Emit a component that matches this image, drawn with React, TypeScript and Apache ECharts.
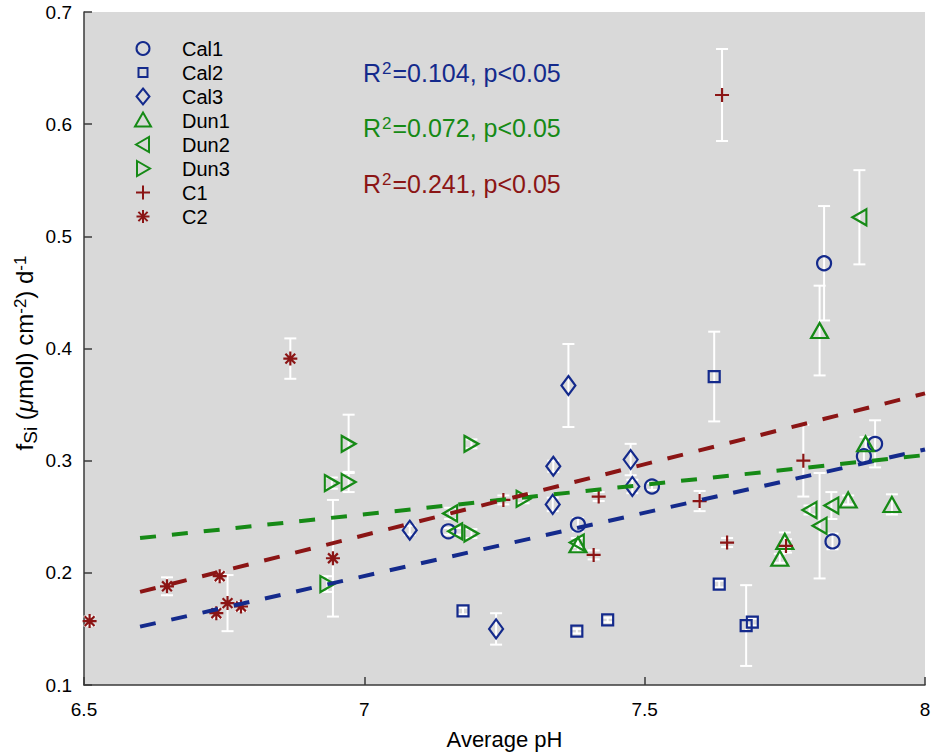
import React, { useEffect, useRef } from "react";
import * as echarts from "echarts";

// ---------------- data ----------------
const seriesNames = ["Cal1", "Cal2", "Cal3", "Dun1", "Dun2", "Dun3", "C1", "C2"];

const cal1X = [7.15, 7.381, 7.513, 7.82, 7.835, 7.891, 7.911];
const cal1Y = [0.237, 0.243, 0.277, 0.476, 0.228, 0.304, 0.315];
const cal1Err = [0.003, 0.006, 0.003, 0.051, 0.007, 0.006, 0.021];

const cal2X = [7.176, 7.379, 7.434, 7.624, 7.633, 7.681, 7.692];
const cal2Y = [0.166, 0.148, 0.158, 0.375, 0.19, 0.153, 0.156];
const cal2Err = [0.003, 0.002, 0.002, 0.04, 0.003, 0.036, 0.003];

const cal3X = [7.081, 7.235, 7.336, 7.337, 7.364, 7.475, 7.478];
const cal3Y = [0.238, 0.15, 0.261, 0.295, 0.367, 0.301, 0.277];
const cal3Err = [0.004, 0.014, 0.006, 0.005, 0.037, 0.014, 0.006];

const dun1X = [7.381, 7.741, 7.75, 7.812, 7.863, 7.894, 7.941];
const dun1Y = [0.225, 0.213, 0.228, 0.416, 0.265, 0.315, 0.261];
const dun1Err = [0.006, 0.004, 0.008, 0.04, 0.004, 0.006, 0.009];

const dun2X = [7.153, 7.162, 7.379, 7.794, 7.812, 7.833, 7.883];
const dun2Y = [0.253, 0.237, 0.227, 0.256, 0.242, 0.26, 0.517];
const dun2Err = [0.005, 0.003, 0.004, 0.004, 0.047, 0.012, 0.042];

const dun3X = [6.934, 6.942, 6.972, 6.972, 7.191, 7.191, 7.284];
const dun3Y = [0.19, 0.28, 0.281, 0.315, 0.235, 0.315, 0.266];
const dun3Err = [0.007, 0.005, 0.009, 0.026, 0.004, 0.004, 0.004];

const c1X = [7.248, 7.409, 7.418, 7.598, 7.638, 7.647, 7.752, 7.783];
const c1Y = [0.265, 0.216, 0.268, 0.264, 0.626, 0.227, 0.224, 0.3];
const c1Err = [0.004, 0.004, 0.004, 0.009, 0.041, 0.004, 0.006, 0.032];

const c2X = [6.51, 6.648, 6.742, 6.736, 6.756, 6.78, 6.868, 6.944];
const c2Y = [0.157, 0.188, 0.197, 0.164, 0.173, 0.17, 0.391, 0.213];
const c2Err = [0.004, 0.008, 0.004, 0.004, 0.025, 0.004, 0.018, 0.052];

// regression fits (endpoints)
const fitBlueX = [6.6, 8];
const fitBlueY = [0.152, 0.31];
const fitGreenX = [6.6, 8];
const fitGreenY = [0.231, 0.305];
const fitRedX = [6.6, 8];
const fitRedY = [0.183, 0.36];

const r2Values = ["0.104", "0.072", "0.241"];
const pLabel = "p<0.05";

const xMin = 6.5;
const xMax = 8;
const xStep = 0.5;
const yMin = 0.1;
const yMax = 0.7;
const yStep = 0.1;

// ---------------- styles ----------------
const NAVY = "#142a8c";
const GREEN = "#168a16";
const RED = "#8b1515";
const FONT = "'Liberation Sans', Arial, Helvetica, sans-serif";

const SYM_LEFT = "path://M10 0L0 5.5L10 11Z";
const SYM_RIGHT = "path://M0 0L10 5.5L0 11Z";
const SYM_PLUS = "path://M5 0L5 10M0 5L10 5";
const SYM_STAR = "path://M5 0L5 10M0 5L10 5M1.5 1.5L8.5 8.5M8.5 1.5L1.5 8.5";

const pts = (xs: number[], ys: number[]) => xs.map((x, i) => [x, ys[i]]);
const errPts = (xs: number[], ys: number[], es: number[]) =>
  xs.map((x, i) => [x, ys[i], es[i]]);

export default function App() {
  const ref = useRef<HTMLDivElement>(null);

  useEffect(() => {
    if (!ref.current) return;
    const chart = echarts.init(ref.current, undefined, { renderer: "svg" });

    const groups = [
      { name: seriesNames[0], x: cal1X, y: cal1Y, e: cal1Err, color: NAVY, symbol: "circle", size: 14 },
      { name: seriesNames[1], x: cal2X, y: cal2Y, e: cal2Err, color: NAVY, symbol: "rect", size: 11 },
      { name: seriesNames[2], x: cal3X, y: cal3Y, e: cal3Err, color: NAVY, symbol: "diamond", size: [14, 19] },
      { name: seriesNames[3], x: dun1X, y: dun1Y, e: dun1Err, color: GREEN, symbol: "triangle", size: [17, 15] },
      { name: seriesNames[4], x: dun2X, y: dun2Y, e: dun2Err, color: GREEN, symbol: SYM_LEFT, size: [14, 16] },
      { name: seriesNames[5], x: dun3X, y: dun3Y, e: dun3Err, color: GREEN, symbol: SYM_RIGHT, size: [14, 16] },
      { name: seriesNames[6], x: c1X, y: c1Y, e: c1Err, color: RED, symbol: SYM_PLUS, size: 14 },
      { name: seriesNames[7], x: c2X, y: c2Y, e: c2Err, color: RED, symbol: SYM_STAR, size: 14 },
    ];

    const allErr: number[][] = [];
    groups.forEach((g) => allErr.push(...errPts(g.x, g.y, g.e)));

    const series: any[] = [
      {
        type: "custom",
        name: "errors",
        silent: true,
        z: 1,
        data: allErr,
        encode: { x: 0, y: 1 },
        renderItem: (_p: any, api: any) => {
          const x = api.value(0);
          const y = api.value(1);
          const e = api.value(2);
          const t = api.coord([x, y + e]);
          const b = api.coord([x, y - e]);
          const w = 6;
          const st = { stroke: "#ffffff", lineWidth: 2 };
          return {
            type: "group",
            children: [
              { type: "line", shape: { x1: t[0], y1: t[1], x2: b[0], y2: b[1] }, style: st },
              { type: "line", shape: { x1: t[0] - w, y1: t[1], x2: t[0] + w, y2: t[1] }, style: st },
              { type: "line", shape: { x1: b[0] - w, y1: b[1], x2: b[0] + w, y2: b[1] }, style: st },
            ],
          };
        },
      },
      ...groups.map((g) => ({
        type: "scatter",
        name: g.name,
        silent: true,
        z: 2,
        symbol: g.symbol,
        symbolSize: g.size,
        itemStyle: { color: "rgba(0,0,0,0)", borderColor: g.color, borderWidth: 2.2, opacity: 1 },
        data: pts(g.x, g.y),
      })),
      ...[
        { x: fitBlueX, y: fitBlueY, c: NAVY },
        { x: fitGreenX, y: fitGreenY, c: GREEN },
        { x: fitRedX, y: fitRedY, c: RED },
      ].map((f) => ({
        type: "line",
        silent: true,
        z: 3,
        symbol: "none",
        showSymbol: false,
        data: pts(f.x, f.y),
        lineStyle: { color: f.c, width: 4, type: [16, 16] },
      })),
    ];

    // legend drawn as graphic
    const lx = 143;
    const ly0 = 48.5;
    const step = 24;
    const legendChildren: any[] = [];
    const legendMarker = (i: number, cy: number): any[] => {
      const g = groups[i];
      const s = { fill: "none", stroke: g.color, lineWidth: 2 };
      const ls = { stroke: g.color, lineWidth: 2 };
      switch (i) {
        case 0:
          return [{ type: "circle", shape: { cx: lx, cy, r: 6.5 }, style: s }];
        case 1:
          return [{ type: "rect", shape: { x: lx - 4.5, y: cy - 4.5, width: 9, height: 9 }, style: s }];
        case 2:
          return [{ type: "polygon", shape: { points: [[lx, cy - 8], [lx + 6.5, cy], [lx, cy + 8], [lx - 6.5, cy]] }, style: s }];
        case 3:
          return [{ type: "polygon", shape: { points: [[lx, cy - 8], [lx + 8, cy + 6], [lx - 8, cy + 6]] }, style: s }];
        case 4:
          return [{ type: "polygon", shape: { points: [[lx - 7, cy], [lx + 6, cy - 7.5], [lx + 6, cy + 7.5]] }, style: s }];
        case 5:
          return [{ type: "polygon", shape: { points: [[lx - 6, cy - 7.5], [lx + 7, cy], [lx - 6, cy + 7.5]] }, style: s }];
        case 6:
          return [
            { type: "line", shape: { x1: lx, y1: cy - 7, x2: lx, y2: cy + 7 }, style: ls },
            { type: "line", shape: { x1: lx - 7, y1: cy, x2: lx + 7, y2: cy }, style: ls },
          ];
        default:
          return [
            { type: "line", shape: { x1: lx, y1: cy - 6.5, x2: lx, y2: cy + 6.5 }, style: ls },
            { type: "line", shape: { x1: lx - 6.5, y1: cy, x2: lx + 6.5, y2: cy }, style: ls },
            { type: "line", shape: { x1: lx - 4.6, y1: cy - 4.6, x2: lx + 4.6, y2: cy + 4.6 }, style: ls },
            { type: "line", shape: { x1: lx + 4.6, y1: cy - 4.6, x2: lx - 4.6, y2: cy + 4.6 }, style: ls },
          ];
      }
    };
    seriesNames.forEach((n, i) => {
      const cy = ly0 + i * step;
      legendChildren.push(...legendMarker(i, cy));
      legendChildren.push({
        type: "text",
        x: 182,
        y: cy,
        style: { text: n, fill: "#000", fontSize: 20, fontFamily: FONT, verticalAlign: "middle", align: "left" },
      });
    });

    const r2Colors = [NAVY, GREEN, RED];
    const r2Y = [60, 115, 171];
    const r2Texts = r2Values.map((v, i) => ({
      type: "text",
      x: 363,
      y: r2Y[i],
      style: {
        text: `{r|R}{s|2}{r|=${v}, ${pLabel}}`,
        fill: r2Colors[i],
        fontFamily: FONT,
        rich: {
          r: { fontSize: 25, lineHeight: 25, verticalAlign: "bottom", fill: r2Colors[i], fontFamily: FONT },
          s: { fontSize: 17, lineHeight: 17, verticalAlign: "top", padding: [0, 1, 16, 1], fill: r2Colors[i], fontFamily: FONT },
        },
      },
    }));

    // y-axis title (rotated)
    const yTitle = {
      type: "text",
      x: 24,
      y: 353,
      rotation: Math.PI / 2,
      style: {
        text: "{n|f}{sub|Si}{n| (}{mu|μ}{n|mol) cm}{sup|-2}{n|) d}{sup|-1}",
        align: "center",
        verticalAlign: "middle",
        fill: "#000",
        fontFamily: FONT,
        rich: {
          n: { fontSize: 24, lineHeight: 24, verticalAlign: "middle", fontFamily: FONT, fill: "#000" },
          mu: { fontSize: 24, lineHeight: 24, fontStyle: "italic", verticalAlign: "middle", fontFamily: FONT, fill: "#000" },
          sub: { fontSize: 19, lineHeight: 19, verticalAlign: "middle", padding: [12, 0, 0, 0], fontFamily: FONT, fill: "#000" },
          sup: { fontSize: 17, lineHeight: 17, verticalAlign: "top", padding: [0, 0, 24, 0], fontFamily: FONT, fill: "#000" },
        },
      },
    };

    const option: any = {
      animation: false,
      textStyle: { fontFamily: FONT },
      grid: {
        left: 84,
        right: 10,
        top: 12,
        bottom: 70,
        containLabel: false,
        outerBoundsMode: "none",
        show: true,
        backgroundColor: "#d9d9d9",
        borderWidth: 0,
      },
      xAxis: {
        type: "value",
        min: xMin,
        max: xMax,
        interval: xStep,
        name: "Average pH",
        nameLocation: "middle",
        nameGap: 43,
        nameTextStyle: { fontSize: 22, color: "#000", fontFamily: FONT },
        axisLine: { show: true, onZero: false, lineStyle: { color: "#3a3a3a", width: 1.5 } },
        axisTick: { show: true, inside: true, length: 8, lineStyle: { color: "#3a3a3a", width: 1.5 } },
        axisLabel: {
          color: "#000",
          fontSize: 19,
          margin: 15,
          fontFamily: FONT,
          formatter: (v: number) => String(Math.round(v * 10) / 10),
        },
        splitLine: { show: false },
      },
      yAxis: {
        type: "value",
        min: yMin,
        max: yMax,
        interval: yStep,
        axisLine: { show: true, onZero: false, lineStyle: { color: "#3a3a3a", width: 1.5 } },
        axisTick: { show: true, inside: true, length: 8, lineStyle: { color: "#3a3a3a", width: 1.5 } },
        axisLabel: {
          color: "#000",
          fontSize: 19,
          margin: 12,
          fontFamily: FONT,
          formatter: (v: number) => v.toFixed(1),
        },
        splitLine: { show: false },
      },
      graphic: [{ type: "group", children: [...legendChildren, ...r2Texts, yTitle] }],
      series,
    };

    chart.setOption(option);
    return () => chart.dispose();
  }, []);

  return (
    <div
      ref={ref}
      style={{ position: "absolute", left: 0, top: 0, width: 935, height: 755, background: "#fff" }}
    />
  );
}
